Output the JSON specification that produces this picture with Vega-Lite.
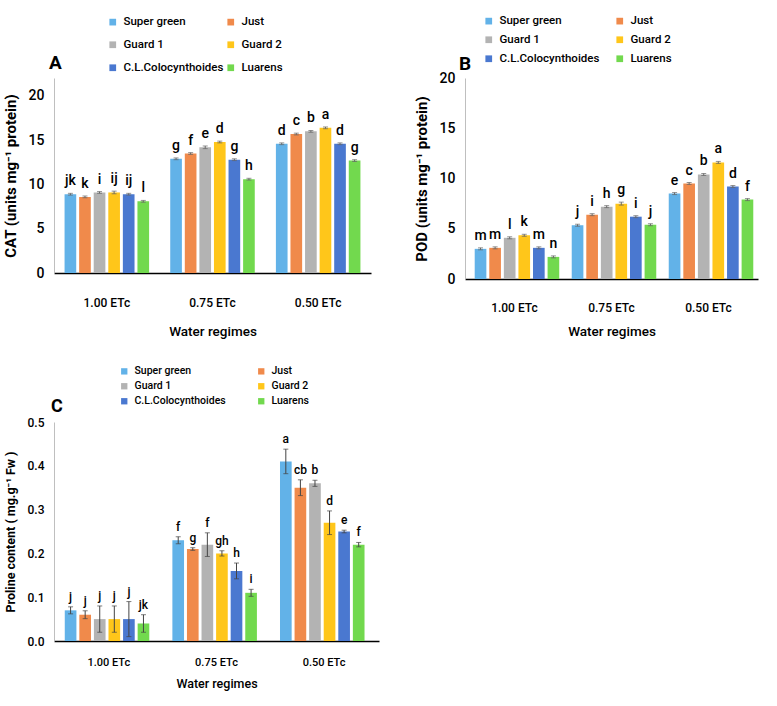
{
 "$schema": "https://vega.github.io/schema/vega-lite/v6.json",
 "padding": {"left": 3, "top": 15, "right": 5, "bottom": 5},
 "config": {
  "font": "Roboto",
  "view": {"stroke": null},
  "axis": {"labelColor": "#000", "titleColor": "#000"},
  "axisX": {"labelAngle": 0, "ticks": false, "domainColor": "#000", "domainWidth": 1.5, "labelPadding": 23, "labelFontSize": 12, "labelFontWeight": 500, "titlePadding": 16, "titleFontSize": 13.5, "titleFontWeight": 500},
  "axisY": {"grid": false, "ticks": false, "domainColor": "#BFBFBF", "labelPadding": 10, "labelFontSize": 14, "labelFontWeight": 500, "titleFontSize": 15, "titleFontWeight": "bold", "titlePadding": 10},
  "legend": {"titleColor": "#000", "labelColor": "#000", "symbolType": "square", "symbolStrokeWidth": 0, "labelFontWeight": 500, "direction": "horizontal"}
 },
 "datasets": {
  "d": [
   {"p": "A", "r": "1.00 ETc", "c": "Super green", "v": 8.9, "lo": 8.8, "hi": 9.0, "t": "jk"},
   {"p": "A", "r": "1.00 ETc", "c": "Just", "v": 8.6, "lo": 8.5, "hi": 8.7, "t": "k"},
   {"p": "A", "r": "1.00 ETc", "c": "Guard 1", "v": 9.1, "lo": 9.0, "hi": 9.2, "t": "i"},
   {"p": "A", "r": "1.00 ETc", "c": "Guard 2", "v": 9.1, "lo": 8.95, "hi": 9.25, "t": "ij"},
   {"p": "A", "r": "1.00 ETc", "c": "C.L.Colocynthoides", "v": 8.9, "lo": 8.8, "hi": 9.0, "t": "ij"},
   {"p": "A", "r": "1.00 ETc", "c": "Luarens", "v": 8.1, "lo": 8.0, "hi": 8.2, "t": "l"},
   {"p": "A", "r": "0.75 ETc", "c": "Super green", "v": 12.9, "lo": 12.8, "hi": 13.0, "t": "g"},
   {"p": "A", "r": "0.75 ETc", "c": "Just", "v": 13.5, "lo": 13.4, "hi": 13.6, "t": "f"},
   {"p": "A", "r": "0.75 ETc", "c": "Guard 1", "v": 14.2, "lo": 14.05, "hi": 14.35, "t": "e"},
   {"p": "A", "r": "0.75 ETc", "c": "Guard 2", "v": 14.8, "lo": 14.7, "hi": 14.9, "t": "d"},
   {"p": "A", "r": "0.75 ETc", "c": "C.L.Colocynthoides", "v": 12.8, "lo": 12.7, "hi": 12.9, "t": "g"},
   {"p": "A", "r": "0.75 ETc", "c": "Luarens", "v": 10.6, "lo": 10.5, "hi": 10.7, "t": "h"},
   {"p": "A", "r": "0.50 ETc", "c": "Super green", "v": 14.6, "lo": 14.5, "hi": 14.7, "t": "d"},
   {"p": "A", "r": "0.50 ETc", "c": "Just", "v": 15.7, "lo": 15.6, "hi": 15.8, "t": "c"},
   {"p": "A", "r": "0.50 ETc", "c": "Guard 1", "v": 16.0, "lo": 15.9, "hi": 16.1, "t": "b"},
   {"p": "A", "r": "0.50 ETc", "c": "Guard 2", "v": 16.4, "lo": 16.3, "hi": 16.5, "t": "a"},
   {"p": "A", "r": "0.50 ETc", "c": "C.L.Colocynthoides", "v": 14.6, "lo": 14.5, "hi": 14.7, "t": "d"},
   {"p": "A", "r": "0.50 ETc", "c": "Luarens", "v": 12.7, "lo": 12.6, "hi": 12.8, "t": "g"},
   {"p": "B", "r": "1.00 ETc", "c": "Super green", "v": 3.0, "lo": 2.9, "hi": 3.1, "t": "m"},
   {"p": "B", "r": "1.00 ETc", "c": "Just", "v": 3.1, "lo": 3.0, "hi": 3.2, "t": "m"},
   {"p": "B", "r": "1.00 ETc", "c": "Guard 1", "v": 4.1, "lo": 4.0, "hi": 4.2, "t": "l"},
   {"p": "B", "r": "1.00 ETc", "c": "Guard 2", "v": 4.35, "lo": 4.25, "hi": 4.45, "t": "k"},
   {"p": "B", "r": "1.00 ETc", "c": "C.L.Colocynthoides", "v": 3.1, "lo": 3.0, "hi": 3.2, "t": "m"},
   {"p": "B", "r": "1.00 ETc", "c": "Luarens", "v": 2.2, "lo": 2.1, "hi": 2.3, "t": "n"},
   {"p": "B", "r": "0.75 ETc", "c": "Super green", "v": 5.35, "lo": 5.25, "hi": 5.45, "t": "j"},
   {"p": "B", "r": "0.75 ETc", "c": "Just", "v": 6.4, "lo": 6.3, "hi": 6.5, "t": "i"},
   {"p": "B", "r": "0.75 ETc", "c": "Guard 1", "v": 7.2, "lo": 7.1, "hi": 7.3, "t": "h"},
   {"p": "B", "r": "0.75 ETc", "c": "Guard 2", "v": 7.5, "lo": 7.35, "hi": 7.65, "t": "g"},
   {"p": "B", "r": "0.75 ETc", "c": "C.L.Colocynthoides", "v": 6.2, "lo": 6.1, "hi": 6.3, "t": "i"},
   {"p": "B", "r": "0.75 ETc", "c": "Luarens", "v": 5.4, "lo": 5.3, "hi": 5.5, "t": "j"},
   {"p": "B", "r": "0.50 ETc", "c": "Super green", "v": 8.5, "lo": 8.4, "hi": 8.6, "t": "e"},
   {"p": "B", "r": "0.50 ETc", "c": "Just", "v": 9.5, "lo": 9.4, "hi": 9.6, "t": "c"},
   {"p": "B", "r": "0.50 ETc", "c": "Guard 1", "v": 10.4, "lo": 10.3, "hi": 10.5, "t": "b"},
   {"p": "B", "r": "0.50 ETc", "c": "Guard 2", "v": 11.6, "lo": 11.5, "hi": 11.7, "t": "a"},
   {"p": "B", "r": "0.50 ETc", "c": "C.L.Colocynthoides", "v": 9.2, "lo": 9.1, "hi": 9.3, "t": "d"},
   {"p": "B", "r": "0.50 ETc", "c": "Luarens", "v": 7.9, "lo": 7.8, "hi": 8.0, "t": "f"},
   {"p": "C", "r": "1.00 ETc", "c": "Super green", "v": 0.07, "lo": 0.062, "hi": 0.078, "t": "j"},
   {"p": "C", "r": "1.00 ETc", "c": "Just", "v": 0.06, "lo": 0.051, "hi": 0.069, "t": "j"},
   {"p": "C", "r": "1.00 ETc", "c": "Guard 1", "v": 0.05, "lo": 0.02, "hi": 0.08, "t": "j"},
   {"p": "C", "r": "1.00 ETc", "c": "Guard 2", "v": 0.05, "lo": 0.02, "hi": 0.08, "t": "j"},
   {"p": "C", "r": "1.00 ETc", "c": "C.L.Colocynthoides", "v": 0.05, "lo": 0.01, "hi": 0.09, "t": "j"},
   {"p": "C", "r": "1.00 ETc", "c": "Luarens", "v": 0.04, "lo": 0.02, "hi": 0.06, "t": "jk"},
   {"p": "C", "r": "0.75 ETc", "c": "Super green", "v": 0.23, "lo": 0.222, "hi": 0.238, "t": "f"},
   {"p": "C", "r": "0.75 ETc", "c": "Just", "v": 0.21, "lo": 0.207, "hi": 0.213, "t": "g"},
   {"p": "C", "r": "0.75 ETc", "c": "Guard 1", "v": 0.22, "lo": 0.193, "hi": 0.247, "t": "f"},
   {"p": "C", "r": "0.75 ETc", "c": "Guard 2", "v": 0.20, "lo": 0.194, "hi": 0.206, "t": "gh"},
   {"p": "C", "r": "0.75 ETc", "c": "C.L.Colocynthoides", "v": 0.16, "lo": 0.142, "hi": 0.178, "t": "h"},
   {"p": "C", "r": "0.75 ETc", "c": "Luarens", "v": 0.11, "lo": 0.102, "hi": 0.118, "t": "i"},
   {"p": "C", "r": "0.50 ETc", "c": "Super green", "v": 0.41, "lo": 0.382, "hi": 0.438, "t": "a"},
   {"p": "C", "r": "0.50 ETc", "c": "Just", "v": 0.35, "lo": 0.332, "hi": 0.368, "t": "cb"},
   {"p": "C", "r": "0.50 ETc", "c": "Guard 1", "v": 0.36, "lo": 0.353, "hi": 0.367, "t": "b"},
   {"p": "C", "r": "0.50 ETc", "c": "Guard 2", "v": 0.27, "lo": 0.243, "hi": 0.297, "t": "d"},
   {"p": "C", "r": "0.50 ETc", "c": "C.L.Colocynthoides", "v": 0.25, "lo": 0.247, "hi": 0.253, "t": "e"},
   {"p": "C", "r": "0.50 ETc", "c": "Luarens", "v": 0.22, "lo": 0.215, "hi": 0.225, "t": "f"}
  ]
 },
 "data": {"name": "d"},
 "spacing": 28,
 "resolve": {"scale": {"color": "independent"}, "legend": {"color": "independent"}},
 "vconcat": [
  {
   "spacing": 43,
   "resolve": {"scale": {"color": "independent"}, "legend": {"color": "independent"}},
   "hconcat": [
    {
     "width": 317, "height": 195,
     "transform": [{"filter": "datum.p === 'A'"}],
     "encoding": {
      "x": {"field": "r", "type": "nominal", "sort": ["1.00 ETc", "0.75 ETc", "0.50 ETc"], "scale": {"paddingInner": 0.2, "paddingOuter": 0.1}, "axis": {"labelPadding": 24}, "title": "Water regimes"},
      "xOffset": {"field": "c", "type": "nominal", "sort": ["Super green", "Just", "Guard 1", "Guard 2", "C.L.Colocynthoides", "Luarens"], "scale": {"paddingInner": 0.2}}
     },
     "layer": [
      {"mark": {"type": "bar"},
       "encoding": {
        "y": {"field": "v", "type": "quantitative", "scale": {"domain": [0, 22.03], "nice": false}, "axis": {"values": [0, 5, 10, 15, 20]}, "title": "CAT (units mg⁻¹ protein)"},
        "color": {"field": "c", "type": "nominal",
         "scale": {"domain": ["Super green", "Just", "Guard 1", "Guard 2", "C.L.Colocynthoides", "Luarens"], "range": ["#62B2E8", "#F08A4B", "#B3B3B3", "#FFC61A", "#4A78D0", "#72D94E"]},
         "legend": {"orient": "none", "legendX": -5, "legendY": -62, "title": "A", "titleOrient": "left", "titleAnchor": "end", "titleFontSize": 19, "titleFontWeight": "bold", "titlePadding": 45, "columns": 2, "columnPadding": 1, "rowPadding": 10, "symbolSize": 45, "labelFontSize": 11.5, "labelOffset": 5}}
       }},
      {"mark": {"type": "rule", "color": "#666"}, "encoding": {"y": {"field": "lo", "type": "quantitative"}, "y2": {"field": "hi"}}},
      {"mark": {"type": "tick", "color": "#666", "size": 5, "thickness": 1}, "encoding": {"y": {"field": "hi", "type": "quantitative"}}},
      {"mark": {"type": "tick", "color": "#666", "size": 5, "thickness": 1}, "encoding": {"y": {"field": "lo", "type": "quantitative"}}},
      {"mark": {"type": "text", "dy": -8, "baseline": "alphabetic", "fontSize": 14, "fontWeight": 500}, "encoding": {"y": {"field": "hi", "type": "quantitative"}, "text": {"field": "t"}}}
     ]
    },
    {
     "width": 293, "height": 201,
     "transform": [{"filter": "datum.p === 'B'"}],
     "encoding": {
      "x": {"field": "r", "type": "nominal", "sort": ["1.00 ETc", "0.75 ETc", "0.50 ETc"], "scale": {"paddingInner": 0.18, "paddingOuter": 0.1}, "axis": {"labelPadding": 23, "titlePadding": 11}, "title": "Water regimes"},
      "xOffset": {"field": "c", "type": "nominal", "sort": ["Super green", "Just", "Guard 1", "Guard 2", "C.L.Colocynthoides", "Luarens"], "scale": {"paddingInner": 0.2}}
     },
     "layer": [
      {"mark": {"type": "bar"},
       "encoding": {
        "y": {"field": "v", "type": "quantitative", "scale": {"domain": [0, 20]}, "axis": {"values": [0, 5, 10, 15, 20]}, "title": "POD (units mg⁻¹ protein)"},
        "color": {"field": "c", "type": "nominal",
         "scale": {"domain": ["Super green", "Just", "Guard 1", "Guard 2", "C.L.Colocynthoides", "Luarens"], "range": ["#62B2E8", "#F08A4B", "#B3B3B3", "#FFC61A", "#4A78D0", "#72D94E"]},
         "legend": {"orient": "none", "legendX": -6, "legendY": -63, "title": "B", "titleOrient": "left", "titleAnchor": "end", "titleBaseline": "middle", "titleFontSize": 19, "titleFontWeight": "bold", "titlePadding": 11, "columns": 2, "columnPadding": 14, "rowPadding": 6, "symbolSize": 45, "labelFontSize": 11.5, "labelOffset": 5}}
       }},
      {"mark": {"type": "rule", "color": "#666"}, "encoding": {"y": {"field": "lo", "type": "quantitative"}, "y2": {"field": "hi"}}},
      {"mark": {"type": "tick", "color": "#666", "size": 5, "thickness": 1}, "encoding": {"y": {"field": "hi", "type": "quantitative"}}},
      {"mark": {"type": "tick", "color": "#666", "size": 5, "thickness": 1}, "encoding": {"y": {"field": "lo", "type": "quantitative"}}},
      {"mark": {"type": "text", "dy": -8, "baseline": "alphabetic", "fontSize": 14, "fontWeight": 500}, "encoding": {"y": {"field": "hi", "type": "quantitative"}, "text": {"field": "t"}}}
     ]
    }
   ]
  },
  {
   "width": 325, "height": 219,
   "transform": [{"filter": "datum.p === 'C'"}],
   "encoding": {
    "x": {"field": "r", "type": "nominal", "sort": ["1.00 ETc", "0.75 ETc", "0.50 ETc"], "scale": {"paddingInner": 0.18, "paddingOuter": 0.1}, "axis": {"labelFontSize": 11, "titleFontSize": 12.5, "labelPadding": 15, "titlePadding": 10}, "title": "Water regimes"},
    "xOffset": {"field": "c", "type": "nominal", "sort": ["Super green", "Just", "Guard 1", "Guard 2", "C.L.Colocynthoides", "Luarens"], "scale": {"paddingInner": 0.15}}
   },
   "layer": [
    {"mark": {"type": "bar"},
     "encoding": {
      "y": {"field": "v", "type": "quantitative", "scale": {"domain": [0, 0.5]}, "axis": {"values": [0, 0.1, 0.2, 0.3, 0.4, 0.5], "format": ".1f", "labelFontSize": 12, "titleFontSize": 12.5}, "title": "Proline content ( mg.g⁻¹ Fw )"},
      "color": {"field": "c", "type": "nominal",
       "scale": {"domain": ["Super green", "Just", "Guard 1", "Guard 2", "C.L.Colocynthoides", "Luarens"], "range": ["#62B2E8", "#F08A4B", "#B3B3B3", "#FFC61A", "#4A78D0", "#72D94E"]},
       "legend": {"orient": "none", "legendX": -3, "legendY": -56, "title": "C", "titleOrient": "left", "titleAnchor": "end", "titleBaseline": "middle", "titleFontSize": 18, "titleFontWeight": "bold", "titlePadding": 56, "columns": 2, "columnPadding": 30, "rowPadding": 4, "symbolSize": 40, "labelFontSize": 10.5, "labelOffset": 5}}
     }},
    {"mark": {"type": "rule", "color": "#444"}, "encoding": {"y": {"field": "lo", "type": "quantitative"}, "y2": {"field": "hi"}}},
    {"mark": {"type": "tick", "color": "#444", "size": 5, "thickness": 1}, "encoding": {"y": {"field": "hi", "type": "quantitative"}}},
    {"mark": {"type": "tick", "color": "#444", "size": 5, "thickness": 1}, "encoding": {"y": {"field": "lo", "type": "quantitative"}}},
    {"mark": {"type": "text", "dy": -6, "baseline": "alphabetic", "fontSize": 12, "fontWeight": 500}, "encoding": {"y": {"field": "hi", "type": "quantitative"}, "text": {"field": "t"}}}
   ]
  }
 ]
}
